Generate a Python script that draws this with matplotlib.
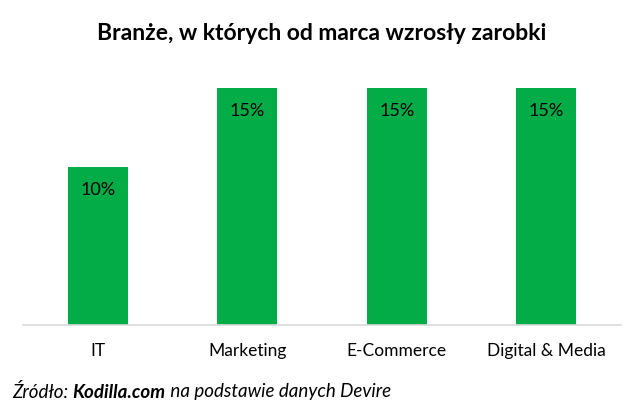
import matplotlib
matplotlib.use("Agg")
import matplotlib.pyplot as plt

plt.rcParams['font.family'] = ['Lato', 'DejaVu Sans']

# dane
categories = ["IT", "Marketing", "E-Commerce", "Digital & Media"]
values = [10, 15, 15, 15]
labels = ["10%", "15%", "15%", "15%"]

bar_color = "#03AC47"

fig = plt.figure(figsize=(6.44, 4.17), dpi=100)
W, H = 644, 417
# axes: baseline y=325px, top y=72px, x from 23 to 621px
ax = fig.add_axes([23 / W, 1 - 325 / H, 598 / W, 253 / H])

x = range(len(categories))
ax.bar(x, values, width=0.4, color=bar_color, zorder=2)
for xi, v, lab in zip(x, values, labels):
    ax.annotate(lab, (xi, v), textcoords="offset points", xytext=(0, -17),
                ha='center', va='center', fontsize=13, color='black')

ax.set_xlim(-0.5, len(categories) - 0.5)
ax.set_ylim(0, 16)
ax.set_yticks([])
ax.set_xticks(list(x))
ax.set_xticklabels(categories, fontsize=12.5)
ax.tick_params(axis='x', length=0, pad=13)
for side in ['top', 'right', 'left']:
    ax.spines[side].set_visible(False)
ax.spines['bottom'].set_color('#D9D9D9')
ax.spines['bottom'].set_linewidth(1.2)

fig.text(0.5, 1 - 33 / H, "Branże, w których od marca wzrosły zarobki",
         ha='center', va='center', fontsize=16.5, fontweight='bold')

# źródło - trzy kawałki tekstu
fig.canvas.draw()
renderer = fig.canvas.get_renderer()
xpos = 12 / W
ypos = 1 - 392 / H
for txt, weight in [("Źródło: ", 'normal'), ("Kodilla.com", 'bold'),
                    (" na podstawie danych Devire", 'normal')]:
    t = fig.text(xpos, ypos, txt, ha='left', va='center', fontsize=13.5,
                 style='italic', fontweight=weight)
    bb = t.get_window_extent(renderer=renderer)
    xpos += bb.width / W

fig.savefig("out.png", dpi=100)
